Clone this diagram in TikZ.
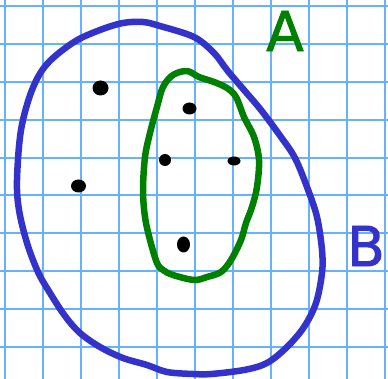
\documentclass[tikz,border=0pt]{standalone}
\usepackage{fontspec}
\setmainfont{DejaVu Sans}
\newfontfamily\labelfont[FakeBold=1.5]{DejaVu Sans}
\definecolor{gridblue}{RGB}{102,178,255}
\definecolor{outerblue}{RGB}{51,51,204}
\definecolor{innergreen}{RGB}{0,128,0}
\begin{document}
\begin{tikzpicture}[x=1pt,y=-1pt, line join=round,
  gridline/.style={gridblue, line width=2pt},
  outline/.style={line width=6.5pt, line cap=round},
  dot/.style={fill=black},
  letter/.style={inner sep=0pt, font=\labelfont\fontsize{55}{58}\selectfont}]
\useasboundingbox (0,0) rectangle (388,379);
\fill[white] (0,0) rectangle (388,379);
\foreach \i in {0,...,10} \draw[gridline] (4.5+38*\i,0) -- (4.5+38*\i,379);
\foreach \j in {0,...,9} \draw[gridline] (0,6+37.9*\j) -- (388,6+37.9*\j);
% outer set B
\draw[outline, outerblue] plot[smooth cycle, tension=0.55] coordinates {
 (143,22) (160,26) (194,37) (214,53) (227,70) (244,90) (261,110) (281,137)
 (295,158) (307,187) (317,217) (322,250) (322,273) (316,303) (304,327)
 (287,347) (267,363) (244,370) (211,374) (193,374) (167,372) (147,365)
 (123,358) (100,347) (80,333) (65,316) (50,293) (38,272) (27,243) (19,210)
 (17,180) (21,130) (32,90) (47,64) (74,42) (100,30) (123,23)};
% inner set A
\draw[outline, innergreen] plot[smooth cycle, tension=0.55] coordinates {
 (187,71) (199,77) (214,82) (227,88) (236,97) (244,117) (254,137) (259,160)
 (257,187) (252,207) (246,223) (241,240) (231,260) (221,272) (207,277)
 (194,280) (173,275) (163,270) (157,263) (150,240) (145,217) (143,190)
 (145,157) (150,133) (157,107) (163,87) (173,75)};
% points
\fill[dot] (100.5,88) ellipse [x radius=8, y radius=7.5];
\fill[dot] (189.5,108.5) ellipse [x radius=7, y radius=6];
\fill[dot] (165,160) ellipse [x radius=6, y radius=6];
\fill[dot] (78.5,186) ellipse [x radius=7.5, y radius=6.5];
\fill[dot] (234,161) ellipse [x radius=6.5, y radius=4.5];
\fill[dot] (183.5,244.5) ellipse [x radius=6.5, y radius=8];
% labels
\node[letter, text=innergreen] (labelA) at (285,31) {A};
\node[letter, text=outerblue] (labelB) at (366,246) {B};
\end{tikzpicture}
\end{document}
